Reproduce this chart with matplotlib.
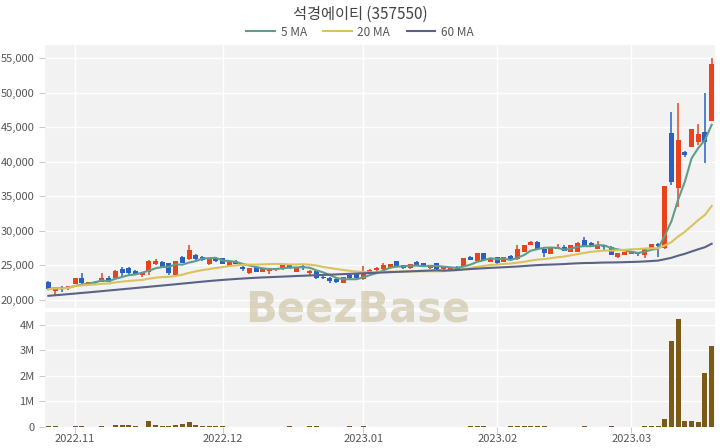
import numpy as np
import pandas as pd
import matplotlib
matplotlib.use('Agg')
import matplotlib.pyplot as plt

plt.rcParams['font.family'] = ['Noto Sans CJK KR', 'DejaVu Sans']

title = '석경에이티 (357550)'

# trading days (KRX holidays removed)
holidays = ['2022-12-30', '2023-01-23', '2023-01-24', '2023-03-01']
dates = pd.bdate_range('2022-10-26', '2023-03-20')
dates = dates[~dates.isin(pd.to_datetime(holidays))]

opens = [22650, 21300, 21930, 21840, 22310, 23230, 22170, 22410, 22650, 23230,
         23140, 24440, 24680, 24240, 23620, 24090, 25160, 25540, 25300, 23620,
         26200, 25900, 26510, 26260, 25200, 26030, 26030, 24920, 25680, 24820,
         23860, 24730, 24090, 24240, 24440, 24440, 25060, 24090, 24920, 23860,
         24240, 23370, 23140, 22990, 22500, 23620, 23860, 23000, 23950, 24340,
         24440, 24580, 25640, 25060, 24580, 25540, 25300, 24580, 25300, 24440,
         24340, 24820, 24820, 26260, 25680, 26750, 25540, 26170, 25540, 26400,
         25880, 26900, 27950, 28430, 27330, 26650, 27330, 27710, 26980, 26980,
         28680, 28290, 27330, 27950, 27710, 26260, 26510, 26610, 26980, 26510,
         27330, 28100, 27480, 44100, 36150, 41450, 42080, 42890, 44340, 45930]
highs = [22700, 21900, 21950, 22050, 23200, 23860, 22600, 22700, 23950, 23470,
         24300, 24730, 24750, 24300, 24000, 25780, 25880, 25600, 25400, 25700,
         26300, 28000, 26600, 26400, 26000, 26100, 26100, 25600, 25750, 24900,
         24650, 24800, 24650, 24650, 24650, 25100, 25100, 24800, 25200, 24300,
         24300, 23500, 23300, 23300, 23300, 23700, 23900, 24900, 24500, 24800,
         25390, 25250, 25700, 25100, 25200, 25600, 25350, 25100, 25350, 24800,
         24650, 24850, 26100, 26300, 26800, 26800, 25950, 26200, 26200, 26450,
         27950, 28000, 28500, 28500, 27400, 27550, 28100, 27950, 28000, 28350,
         29070, 28350, 28580, 28000, 27750, 26800, 27000, 27100, 27000, 27500,
         28150, 28200, 36550, 47230, 48530, 41500, 44750, 45450, 49890, 54960]
lows = [21500, 20620, 21160, 21450, 22250, 22310, 22100, 22350, 22600, 22600,
        23100, 23370, 23470, 23700, 23280, 23620, 25100, 24750, 23620, 23600,
        25350, 25800, 25850, 25600, 25000, 25450, 25150, 24900, 25150, 24240,
        23800, 24050, 24050, 23760, 24250, 24400, 24500, 24050, 24400, 23470,
        23100, 22990, 22500, 22500, 22450, 23100, 23100, 22950, 23800, 24000,
        24400, 24550, 24800, 24550, 24550, 25000, 24800, 24550, 24400, 24400,
        24300, 24400, 24800, 25750, 25650, 25750, 25500, 25250, 25500, 25750,
        25850, 26950, 27900, 27300, 26170, 26600, 27300, 27100, 26950, 26950,
        27780, 27680, 27300, 27230, 26480, 26030, 26480, 26580, 26360, 26030,
        27300, 26260, 27400, 36630, 33500, 40720, 42050, 42420, 39770, 45900]
closes = [21550, 21840, 21640, 22020, 23140, 22500, 22560, 22650, 23230, 22650,
          24240, 23860, 23950, 23760, 23950, 25640, 25640, 24820, 23950, 25680,
          25400, 27200, 25880, 25780, 25950, 25680, 25200, 25540, 25200, 24440,
          24580, 24090, 24580, 24580, 24580, 25060, 24580, 24730, 24730, 24240,
          23140, 23140, 22790, 22650, 23280, 23140, 23140, 24100, 24340, 24680,
          25060, 25200, 24820, 24580, 25160, 25060, 24820, 25060, 24440, 24730,
          24580, 24440, 26030, 25780, 26750, 25780, 25880, 25300, 26170, 25780,
          27330, 27900, 28430, 27330, 26750, 27480, 27710, 27130, 27950, 28290,
          27810, 27710, 27950, 27620, 26510, 26750, 26980, 27090, 26650, 27480,
          28100, 27780, 36490, 37100, 43130, 40970, 44690, 43960, 42890, 54130]
# volume in millions of shares
volumes = [0.02, 0.02, 0.01, 0.01, 0.02, 0.02, 0.01, 0.01, 0.03, 0.01,
           0.09, 0.07, 0.07, 0.05, 0.01, 0.25, 0.07, 0.05, 0.05, 0.06,
           0.13, 0.19, 0.06, 0.03, 0.02, 0.02, 0.03, 0.01, 0.01, 0.01,
           0.01, 0.01, 0.01, 0.01, 0.01, 0.01, 0.02, 0.01, 0.01, 0.02,
           0.02, 0.01, 0.01, 0.01, 0.01, 0.02, 0.01, 0.02, 0.01, 0.01,
           0.01, 0.01, 0.01, 0.01, 0.01, 0.01, 0.01, 0.01, 0.01, 0.01,
           0.01, 0.01, 0.01, 0.02, 0.03, 0.02, 0.01, 0.01, 0.01, 0.02,
           0.04, 0.05, 0.04, 0.02, 0.02, 0.01, 0.01, 0.01, 0.01, 0.01,
           0.02, 0.01, 0.01, 0.01, 0.02, 0.01, 0.01, 0.01, 0.01, 0.02,
           0.02, 0.02, 0.30, 3.35, 4.22, 0.22, 0.25, 0.19, 2.12, 3.17]
# 60 MA before 60 days of history are available
ma60_early = [20600, 20680, 20760, 20850, 20930, 21020, 21100, 21190, 21280, 21370,
              21460, 21550, 21640, 21730, 21820, 21910, 22000, 22090, 22180, 22270,
              22370, 22460, 22560, 22650, 22740, 22820, 22900, 22970, 23040, 23100,
              23160, 23210, 23260, 23300, 23340, 23380, 23420, 23470, 23500, 23540,
              23580, 23620, 23660, 23700, 23740, 23780, 23820, 23860, 23900, 23940,
              23980, 24020, 24060, 24100, 24140, 24180, 24220, 24260, 24300]

up_color = '#e8431c'
down_color = '#2c5fc0'
vol_color = '#7a5a17'
ma_colors = {'5 MA': '#5f9e8c', '20 MA': '#d9c35f', '60 MA': '#5b6384'}
bg = '#f2f2f2'
text_color = '#555555'

o = np.array(opens, dtype=float)
h = np.array(highs, dtype=float)
l = np.array(lows, dtype=float)
c = np.array(closes, dtype=float)
x = np.arange(len(c))

s = pd.Series(c)
ma5 = s.rolling(5, min_periods=1).mean()
ma20 = s.rolling(20, min_periods=1).mean()
ma60 = s.rolling(60).mean()
ma60.iloc[:len(ma60_early)] = ma60_early

fig = plt.figure(figsize=(7.2, 4.48), dpi=100)
ax = fig.add_axes([45/720, 1-308/448, 670/720, 263/448])
axv = fig.add_axes([45/720, 1-427/448, 670/720, 115/448], sharex=ax)

for a in (ax, axv):
    a.set_facecolor(bg)
    for sp in a.spines.values():
        sp.set_visible(False)
    a.tick_params(colors='#cccccc', labelcolor=text_color, labelsize=8, length=4, width=0.8)
    a.grid(True, color='white', linewidth=1)
    a.set_axisbelow(True)

# candles
colors = np.where(c >= o, up_color, down_color)
body_bottom = np.minimum(o, c)
body_height = np.maximum(np.abs(c - o), 60)
ax.vlines(x, l, h, colors=colors, linewidth=1.1, zorder=2)
ax.bar(x, body_height, bottom=body_bottom, width=0.75, color=colors, zorder=2)

ax.plot(x, ma5, color=ma_colors['5 MA'], linewidth=1.5, label='5 MA', zorder=3)
ax.plot(x, ma20, color=ma_colors['20 MA'], linewidth=1.5, label='20 MA', zorder=3)
ax.plot(x, ma60, color=ma_colors['60 MA'], linewidth=1.5, label='60 MA', zorder=3)

ax.set_xlim(-0.5, len(c) - 0.5)
ax.set_ylim(18840, 56870)
ax.set_yticks(np.arange(20000, 55001, 5000))
ax.set_yticklabels([f'{v:,}' for v in range(20000, 55001, 5000)])
ax.set_xticks([0, 20, 40, 60, 80])
ax.tick_params(axis='x', bottom=False, labelbottom=False)

# volume
axv.bar(x, volumes, width=0.75, color=vol_color, zorder=2)
axv.set_ylim(0, 4.5)
axv.set_yticks([0, 1, 2, 3, 4])
axv.set_yticklabels(['0', '1M', '2M', '3M', '4M'])
month_starts = ['2022-11', '2022-12', '2023-01', '2023-02', '2023-03']
tick_pos = [int(np.argmax(dates.strftime('%Y-%m') == m)) for m in month_starts]
axv.set_xticks(tick_pos)
axv.set_xticklabels([m.replace('-', '.') for m in month_starts])
axv.tick_params(axis='x', pad=1)

fig.text(0.5, 1-14/448, title, ha='center', va='center', fontsize=11, color='#444444')
fig.legend(loc='center', bbox_to_anchor=(0.5, 1-32/448), ncol=3, frameon=False,
           fontsize=8.5, handlelength=2.4, columnspacing=1.4, handletextpad=0.5,
           labelcolor=text_color)

fig.text(358/720, 1-310/448, 'BeezBase', ha='center', va='center', fontsize=30,
         fontweight='bold', color='#cdc3a2', alpha=0.65, family='DejaVu Sans', zorder=10)

fig.savefig('out.png', dpi=100)
